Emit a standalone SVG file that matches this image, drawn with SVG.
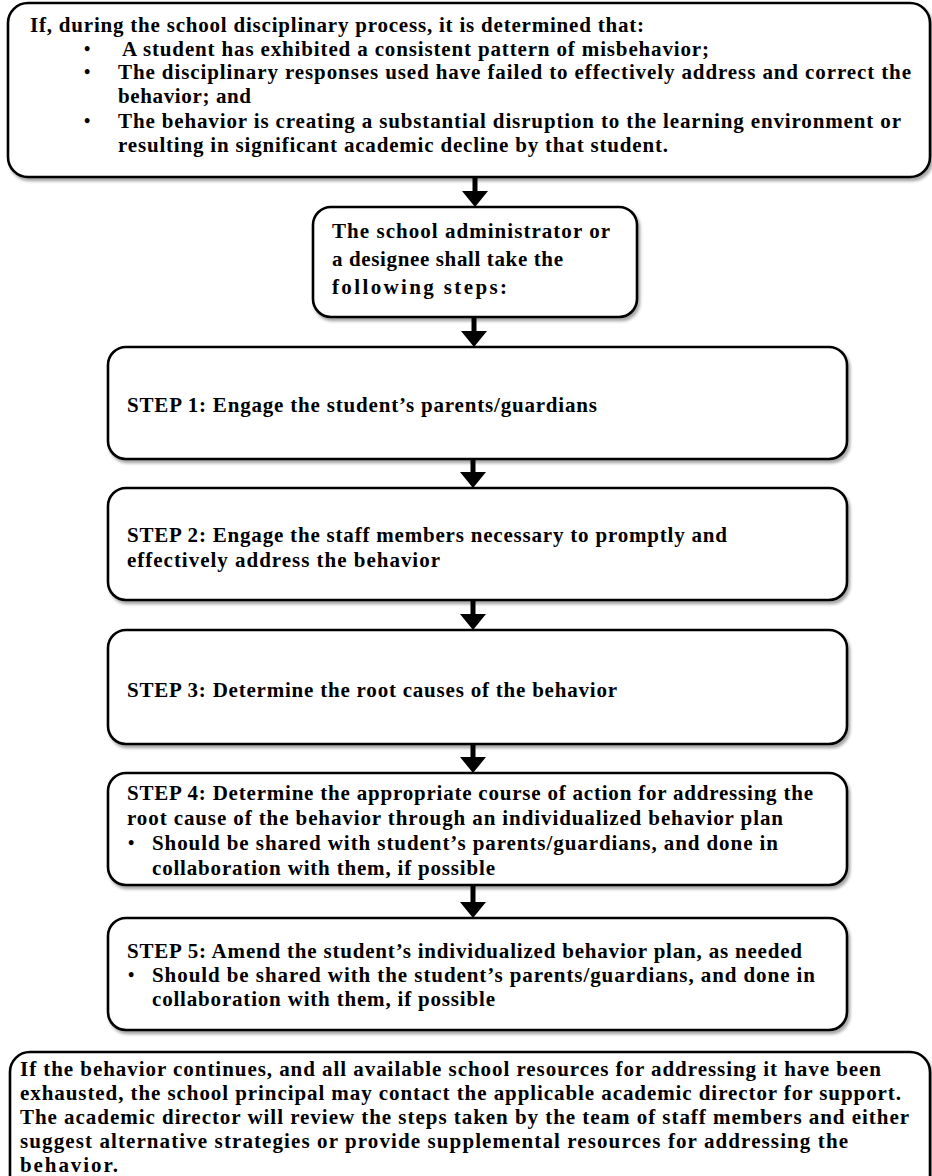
<svg xmlns="http://www.w3.org/2000/svg" width="932" height="1176" viewBox="0 0 932 1176">
<style>
.box{fill:#fff;stroke:#000;stroke-width:2.6;filter:url(#sh)}
.t{font-family:"Liberation Serif","Times New Roman",serif;font-weight:bold;font-size:21px;fill:#000}
.b{font-family:"Liberation Serif","Times New Roman",serif;font-weight:bold;font-size:18px;fill:#000}
.conn{stroke:#000;stroke-width:5;fill:none;marker-end:url(#ah)}
</style>
<defs>
<filter id="sh" x="-5%" y="-5%" width="110%" height="115%">
<feDropShadow dx="2" dy="3" stdDeviation="1.5" flood-color="#000" flood-opacity="0.35"/>
</filter>
<marker id="ah" markerUnits="userSpaceOnUse" markerWidth="18" markerHeight="28" refX="0" refY="13" orient="auto" viewBox="0 0 18 26">
<path d="M0,0 L16,13 L0,26 Z" fill="#000"/>
</marker>
</defs>

<g id="connectors">
<line class="conn" x1="475" y1="177" x2="475" y2="191"/>
<line class="conn" x1="474" y1="317" x2="474" y2="331"/>
<line class="conn" x1="473" y1="459" x2="473" y2="472"/>
<line class="conn" x1="473" y1="600" x2="473" y2="614"/>
<line class="conn" x1="473" y1="744" x2="473" y2="757"/>
<line class="conn" x1="473" y1="885" x2="473" y2="902"/>
</g>

<g id="condition">
<rect class="box" x="8" y="3" width="922" height="174" rx="20"/>
<text class="t" x="30" y="32" textLength="614">If, during the school disciplinary process, it is determined that:</text>
<text class="b" x="84" y="55">•</text>
<text class="t" x="122" y="56" textLength="587">A student has exhibited a consistent pattern of misbehavior;</text>
<text class="b" x="84" y="78">•</text>
<text class="t" x="118" y="79" textLength="793">The disciplinary responses used have failed to effectively address and correct the</text>
<text class="t" x="118" y="103" textLength="133">behavior; and</text>
<text class="b" x="84" y="127">•</text>
<text class="t" x="118" y="128" textLength="783">The behavior is creating a substantial disruption to the learning environment or</text>
<text class="t" x="118" y="152" textLength="550">resulting in significant academic decline by that student.</text>
</g>

<g id="admin">
<rect class="box" x="313" y="207" width="324" height="110" rx="18"/>
<text class="t" x="332" y="238" textLength="278">The school administrator or</text>
<text class="t" x="332" y="266" textLength="231">a designee shall take the</text>
<text class="t" x="332" y="294" textLength="175">following steps:</text>
</g>

<g id="step1">
<rect class="box" x="108" y="347" width="739" height="112" rx="18"/>
<text class="t" x="127" y="412" textLength="470">STEP 1: Engage the student’s parents/guardians</text>
</g>

<g id="step2">
<rect class="box" x="108" y="488" width="739" height="112" rx="18"/>
<text class="t" x="127" y="542" textLength="600">STEP 2: Engage the staff members necessary to promptly and</text>
<text class="t" x="127" y="567" textLength="313">effectively address the behavior</text>
</g>

<g id="step3">
<rect class="box" x="108" y="630" width="739" height="114" rx="18"/>
<text class="t" x="127" y="697" textLength="490">STEP 3: Determine the root causes of the behavior</text>
</g>

<g id="step4">
<rect class="box" x="108" y="773" width="739" height="112" rx="18"/>
<text class="t" x="127" y="800" textLength="686">STEP 4: Determine the appropriate course of action for addressing the</text>
<text class="t" x="127" y="825" textLength="656">root cause of the behavior through an individualized behavior plan</text>
<text class="b" x="128" y="849">•</text>
<text class="t" x="152" y="850" textLength="626">Should be shared with student’s parents/guardians, and done in</text>
<text class="t" x="152" y="875" textLength="343">collaboration with them, if possible</text>
</g>

<g id="step5">
<rect class="box" x="108" y="918" width="739" height="112" rx="18"/>
<text class="t" x="127" y="958" textLength="675">STEP 5: Amend the student’s individualized behavior plan, as needed</text>
<text class="b" x="128" y="981">•</text>
<text class="t" x="152" y="982" textLength="663">Should be shared with the student’s parents/guardians, and done in</text>
<text class="t" x="152" y="1006" textLength="343">collaboration with them, if possible</text>
</g>

<g id="escalation">
<rect class="box" x="10" y="1052" width="920" height="150" rx="20"/>
<text class="t" x="20" y="1076" textLength="861">If the behavior continues, and all available school resources for addressing it have been</text>
<text class="t" x="20" y="1100" textLength="881">exhausted, the school principal may contact the applicable academic director for support.</text>
<text class="t" x="20" y="1124" textLength="889">The academic director will review the steps taken by the team of staff members and either</text>
<text class="t" x="20" y="1148" textLength="828">suggest alternative strategies or provide supplemental resources for addressing the</text>
<text class="t" x="20" y="1172" textLength="98">behavior.</text>
</g>
</svg>
